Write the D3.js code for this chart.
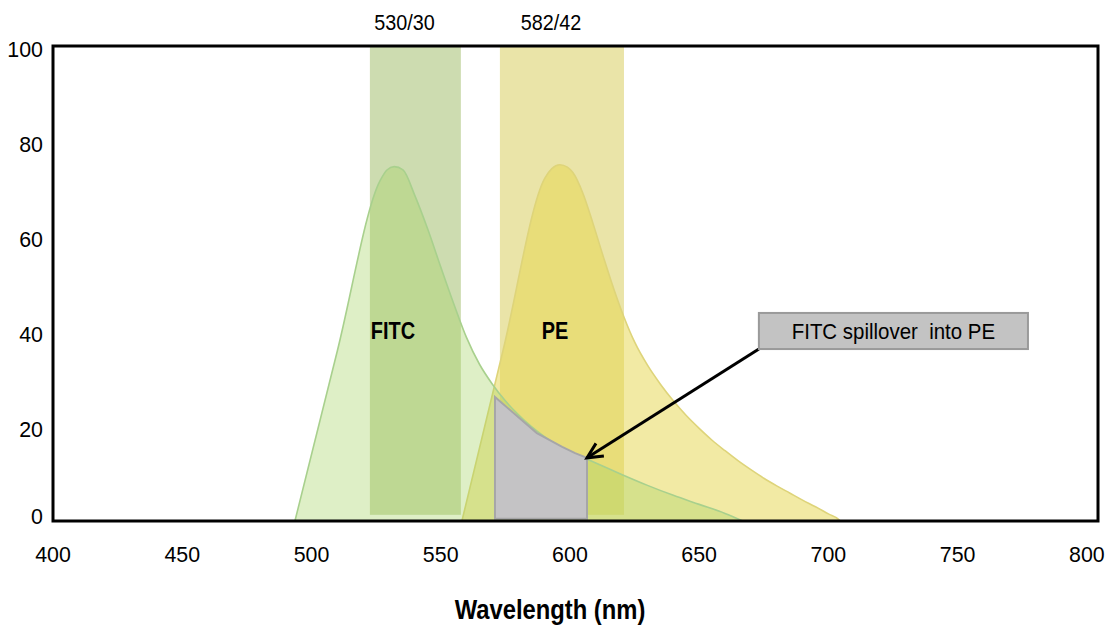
<!DOCTYPE html>
<html>
<head>
<meta charset="utf-8">
<script src="https://cdn.jsdelivr.net/npm/d3@7"></script>
<style>
  html, body { margin: 0; padding: 0; background: #fff; }
  svg { display: block; }
  text { font-family: "Liberation Sans", Arial, sans-serif; fill: #000; }
</style>
</head>
<body>
<svg id="chart" width="1111" height="631"></svg>
<script>
// Emission spectra (wavelength nm, relative intensity %)
const fitcSpectrum = [
  [493.6, 0], [510, 35.8], [526.5, 71.6], [529.2, 73.9], [532.0, 74.6], [535.4, 73.9],
  [540, 68.5], [545, 61.4], [550, 53.5], [555, 45.8], [560, 38.6], [565, 33.0],
  [570, 28.8], [575, 25.3], [580, 22.4], [585, 19.9], [590, 17.8], [595, 16.0],
  [600, 14.6], [605, 13.4], [610, 12.2], [620, 9.8], [630, 7.5], [640, 5.4],
  [650, 3.5], [660, 1.6], [666.9, 0]
];
const peSpectrum = [
  [558.2, 0], [574.2, 36.1], [590.3, 72.2], [593.0, 74.2], [596.1, 75.0], [599.0, 74.5],
  [601.2, 73.3], [605, 69.0], [609, 62.5], [613, 55.5], [617, 48.8], [621, 42.8],
  [625, 37.7], [630, 32.8], [635, 28.8], [640, 25.3], [645, 22.2], [650, 19.5],
  [655, 17.0], [660, 14.8], [665, 12.7], [670, 10.8], [675, 9.0], [680, 7.4],
  [685, 5.9], [690, 4.4], [695, 3.0], [700, 1.5], [704, 0.3], [704.5, 0]
];
// FITC signal collected in the PE detector
const spillover = [[571.0, 26.1], [587.2, 18.5], [592, 17.1], [597, 15.6], [602, 14.3], [606.6, 13.3]];
const spillFloor = 0.5;

// Band-pass filters: name, low edge, high edge (nm), lower bound (%)
const filterNames = ["530/30", "582/42"];
const filterLow = [522.6, 572.9];
const filterHigh = [557.8, 620.9];
const filterFloor = 1.3;

const dyeNames = ["FITC", "PE"];
const dyeLabelAt = [[531.5, 40], [594.2, 40]];

const xTicks = [400, 450, 500, 550, 600, 650, 700, 750, 800];
const yTicks = [0, 20, 40, 60, 80, 100];
const xMax = 804.3;

const note = "FITC spillover  into PE";
const noteBox = [[673.1, 43.8], [777.2, 36.2]];   // corners in data units

const svg = d3.select("#chart");
const x = d3.scaleLinear().domain([400, xMax]).range([53, 1098]);
const y = d3.scaleLinear().domain([0, 100]).range([521, 46]);

// text drawn with a horizontal condensing factor
function label(g, tx, ty, str, size, squeeze, opts = {}) {
  return g.append("text")
    .attr("transform", `translate(${tx},${ty}) scale(${squeeze},1)`)
    .attr("text-anchor", opts.anchor || "middle")
    .attr("dy", opts.dy || null)
    .attr("font-size", size)
    .attr("font-weight", opts.bold ? "bold" : null)
    .style("white-space", "pre")
    .text(str);
}

// filter bands
const bandFill = ["#cddcb0", "#eae4a8"];
svg.append("g").selectAll("rect").data(filterNames).join("rect")
  .attr("x", (d, i) => x(filterLow[i]))
  .attr("width", (d, i) => x(filterHigh[i]) - x(filterLow[i]))
  .attr("y", y(100))
  .attr("height", y(filterFloor) - y(100))
  .attr("fill", (d, i) => bandFill[i]);

// spectra
const area = d3.area()
  .x(d => x(d[0])).y0(y(0)).y1(d => y(d[1]))
  .curve(d3.curveMonotoneX);

svg.append("path").datum(peSpectrum)
  .attr("d", area)
  .attr("fill", "rgba(229,213,73,0.5)")
  .attr("stroke", "#ded47a").attr("stroke-width", 1.6);

svg.append("path").datum(fitcSpectrum)
  .attr("d", area)
  .attr("fill", "rgba(164,212,98,0.36)")
  .attr("stroke", "#a8d08d").attr("stroke-width", 1.6);

// spillover region
const spillArea = d3.area()
  .x(d => x(d[0])).y0(y(spillFloor)).y1(d => y(d[1]));
svg.append("path").datum(spillover)
  .attr("d", d => spillArea(d) + "Z")
  .attr("fill", "#c4c3c5")
  .attr("stroke", "#a6a6a8").attr("stroke-width", 2);

// frame
svg.append("rect")
  .attr("x", x(400)).attr("y", y(100))
  .attr("width", x(xMax) - x(400)).attr("height", y(0) - y(100))
  .attr("fill", "none").attr("stroke", "#000").attr("stroke-width", 3);

// axis labels
const gx = svg.append("g");
xTicks.forEach(v => label(gx, x(v), 562, String(v), 23, 0.93));

const gy = svg.append("g");
yTicks.forEach(v => label(gy, 43, Math.min(y(v) + 3, y(0) - 5), String(v), 23, 0.93,
  { anchor: "end", dy: "0.35em" }));

label(svg, 550, 619, "Wavelength (nm)", 28, 0.85, { bold: true });

// filter names above the bands
filterNames.forEach((n, i) =>
  label(svg, (x(filterLow[i]) + x(filterHigh[i])) / 2 - 11, 30, n, 22, 0.9));

// dye names
dyeNames.forEach((n, i) =>
  label(svg, x(dyeLabelAt[i][0]), y(dyeLabelAt[i][1]), n, 24, 0.83,
    { bold: true, dy: "0.35em" }));

// annotation box with arrow to the spillover corner
const target = spillover[spillover.length - 1];
const bx0 = x(noteBox[0][0]), by0 = y(noteBox[0][1]);
const bx1 = x(noteBox[1][0]), by1 = y(noteBox[1][1]);
const tx = x(target[0]), ty = y(target[1]);

svg.append("line")
  .attr("x1", bx0).attr("y1", by1).attr("x2", tx).attr("y2", ty)
  .attr("stroke", "#000").attr("stroke-width", 3);

const ang = Math.atan2(ty - by1, tx - bx0);
const headLen = 17, spread = 0.45;
const head = [
  [tx - headLen * Math.cos(ang - spread), ty - headLen * Math.sin(ang - spread)],
  [tx, ty],
  [tx - headLen * Math.cos(ang + spread), ty - headLen * Math.sin(ang + spread)]
];
svg.append("path")
  .attr("d", d3.line()(head))
  .attr("fill", "none").attr("stroke", "#000").attr("stroke-width", 3)
  .attr("stroke-linejoin", "miter");

svg.append("rect")
  .attr("x", bx0).attr("y", by0)
  .attr("width", bx1 - bx0).attr("height", by1 - by0)
  .attr("fill", "#c3c3c3").attr("stroke", "#9a9a9a").attr("stroke-width", 2);

label(svg, (bx0 + bx1) / 2, (by0 + by1) / 2, note, 22, 0.93, { dy: "0.35em" });
</script>
</body>
</html>
